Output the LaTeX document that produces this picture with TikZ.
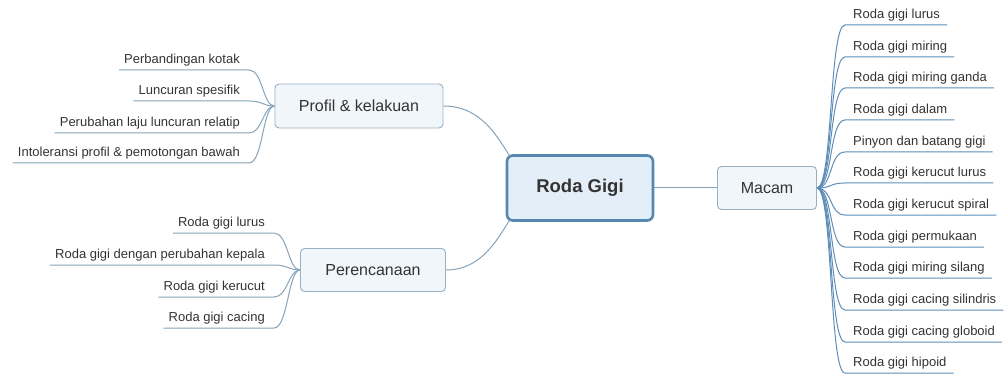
\documentclass[tikz,border=0pt]{standalone}
\usepackage{fontspec}
\setmainfont{Liberation Sans}
\usetikzlibrary{calc}
\pgfdeclarelayer{bg}
\pgfsetlayers{bg,main}
\definecolor{wireR}{HTML}{5E8DB8}
\definecolor{wireL}{HTML}{86A3B9}
\definecolor{rootline}{HTML}{5587B0}
\definecolor{rootfill}{HTML}{E4EEF8}
\definecolor{subline}{HTML}{98B0C4}
\definecolor{subfill}{HTML}{F1F6FB}
\definecolor{ink}{HTML}{333333}
\tikzset{
  rootbox/.style={draw=rootline, line width=2.6pt, fill=rootfill, rounded corners=6pt,
    font=\fontsize{18.5}{22}\selectfont\bfseries, text=ink},
  subbox/.style={draw=subline, line width=0.9pt, fill=subfill, rounded corners=4pt,
    font=\fontsize{16}{19}\selectfont, text=ink},
  leaf/.style={inner sep=0pt, font=\fontsize{13}{15}\selectfont, text=ink},
  lleaf/.style={leaf, anchor=base east},
  rleaf/.style={leaf, anchor=base west},
  wirel/.style={draw=wireL, line width=1pt},
  wirer/.style={draw=wireR, line width=1pt},
}
\begin{document}
\begin{tikzpicture}[x=1pt,y=-1pt]
\useasboundingbox (0,0) rectangle (1006,374);

% main topics
\node[rootbox, minimum width=146pt, minimum height=65pt] (root) at (580,188) {Roda Gigi};
\node[subbox, minimum width=168pt, minimum height=44pt] (prof) at (359,106) {Profil \& kelakuan};
\node[subbox, minimum width=145pt, minimum height=43pt] (plan) at (373,270) {Perencanaan};
\node[subbox, minimum width=99pt, minimum height=43pt] (kind) at (767,188) {Macam};

% leaves of "Profil & kelakuan"
\node[lleaf] (p1) at (240,63.5) {Perbandingan kotak};
\node[lleaf] (p2) at (240,94.5) {Luncuran spesifik};
\node[lleaf] (p3) at (240,126.5) {Perubahan laju luncuran relatip};
\node[lleaf] (p4) at (240,156.5) {Intoleransi profil \& pemotongan bawah};

% leaves of "Perencanaan"
\node[lleaf] (e1) at (265,226.5) {Roda gigi lurus};
\node[lleaf] (e2) at (265,258.5) {Roda gigi dengan perubahan kepala};
\node[lleaf] (e3) at (265,290.5) {Roda gigi kerucut};
\node[lleaf] (e4) at (265,321.5) {Roda gigi cacing};

% leaves of "Macam"
\node[rleaf] (m1) at (853,18.5) {Roda gigi lurus};
\node[rleaf] (m2) at (853,50.5) {Roda gigi miring};
\node[rleaf] (m3) at (853,81.5) {Roda gigi miring ganda};
\node[rleaf] (m4) at (853,113.5) {Roda gigi dalam};
\node[rleaf] (m5) at (853,145.5) {Pinyon dan batang gigi};
\node[rleaf] (m6) at (853,176.5) {Roda gigi kerucut lurus};
\node[rleaf] (m7) at (853,208.5) {Roda gigi kerucut spiral};
\node[rleaf] (m8) at (853,240.5) {Roda gigi permukaan};
\node[rleaf] (m9) at (853,271.5) {Roda gigi miring silang};
\node[rleaf] (m10) at (853,303.5) {Roda gigi cacing silindris};
\node[rleaf] (m11) at (853,335.5) {Roda gigi cacing globoid};
\node[rleaf] (m12) at (853,366.5) {Roda gigi hipoid};

\begin{pgfonlayer}{bg}
  % root to main topics
  \draw[wirel] (prof.east) .. controls +(38,0) and +(-14,-22) .. ($(root.north west)+(6,5)$);
  \draw[wirel] (plan.east) .. controls +(36,0) and +(-14,22) .. ($(root.south west)+(6,-5)$);
  \draw[wirel] (root.east) -- (kind.west);

  % underlined leaves, left side
  \foreach \n in {p1,p2,p3,p4}
    \draw[wirel] ($(\n.base west)+(-5,6.5)$) -- ($(\n.base east)+(9,6.5)$)
      .. controls +(14,0) and +(-12,0) .. (prof.west);
  \foreach \n in {e1,e2,e3,e4}
    \draw[wirel] ($(\n.base west)+(-5,6.5)$) -- ($(\n.base east)+(9,6.5)$)
      .. controls +(14,0) and +(-12,0) .. (plan.west);

  % underlined leaves, right side
  \foreach \n in {m1,m2,m3,m4,m5,m6,m7,m8,m9,m10,m11,m12}
    \draw[wirer] (kind.east) .. controls +(16,0) and +(-16,0)
      .. ($(\n.base west)+(-8,6.5)$) -- ($(\n.base east)+(7,6.5)$);
\end{pgfonlayer}
\end{tikzpicture}
\end{document}
